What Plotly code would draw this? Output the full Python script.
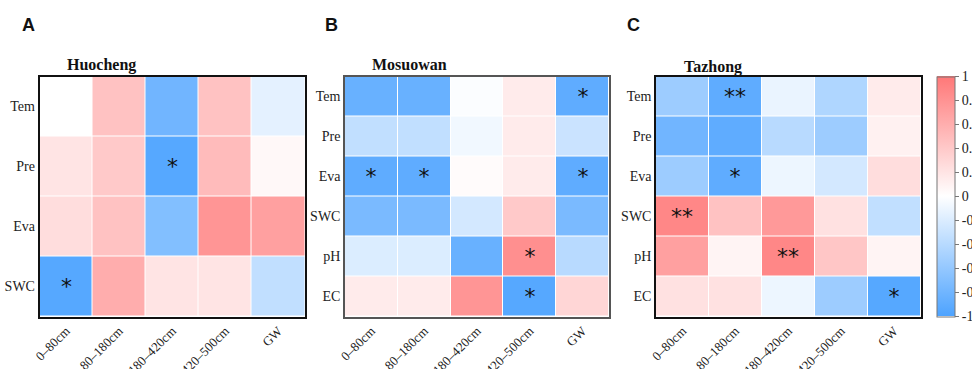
import plotly.graph_objects as go

# ---- data ----
depths = ["0–80cm", "80–180cm", "180–420cm", "420–500cm", "GW"]
rows_a = ["Tem", "Pre", "Eva", "SWC"]
rows_bc = ["Tem", "Pre", "Eva", "SWC", "pH", "EC"]

huocheng = [
    [0.00, 0.45, -0.80, 0.45, -0.15],
    [0.20, 0.40, -0.95, 0.50, 0.05],
    [0.25, 0.45, -0.70, 0.78, 0.70],
    [-0.95, 0.60, 0.20, 0.20, -0.35],
]
huocheng_sig = [
    ["", "", "", "", ""],
    ["", "", "*", "", ""],
    ["", "", "", "", ""],
    ["*", "", "", "", ""],
]

mosuowan = [
    [-0.85, -0.85, -0.02, 0.15, -0.90],
    [-0.35, -0.35, -0.08, 0.15, -0.30],
    [-0.90, -0.90, 0.03, 0.15, -0.90],
    [-0.75, -0.75, -0.25, 0.40, -0.75],
    [-0.20, -0.20, -0.85, 0.82, -0.40],
    [0.15, 0.15, 0.78, -0.95, 0.30],
]
mosuowan_sig = [
    ["", "", "", "", "*"],
    ["", "", "", "", ""],
    ["*", "*", "", "", "*"],
    ["", "", "", "", ""],
    ["", "", "", "*", ""],
    ["", "", "", "*", ""],
]

tazhong = [
    [-0.55, -0.90, -0.12, -0.45, 0.15],
    [-0.80, -0.90, -0.40, -0.55, 0.10],
    [-0.55, -0.90, -0.10, -0.25, 0.25],
    [0.88, 0.45, 0.75, 0.22, -0.35],
    [0.70, 0.08, 0.88, 0.42, 0.08],
    [0.22, 0.22, -0.10, -0.55, -0.95],
]
tazhong_sig = [
    ["", "**", "", "", ""],
    ["", "", "", "", ""],
    ["", "*", "", "", ""],
    ["**", "", "", "", ""],
    ["", "", "**", "", ""],
    ["", "", "", "", "*"],
]

titles = ["Huocheng", "Mosuowan", "Tazhong"]
letters = ["A", "B", "C"]
cbar_ticks = [1, 0.8, 0.6, 0.4, 0.2, 0, -0.2, -0.4, -0.6, -0.8, -1]

# ---- layout constants ----
W, H = 972, 369
colorscale = [[0.0, "rgb(77,163,255)"], [0.5, "rgb(255,255,255)"], [1.0, "rgb(255,119,119)"]]
serif = "Liberation Serif, Times New Roman, serif"

panels = [
    (huocheng, huocheng_sig, rows_a, (39.5, 305)),
    (mosuowan, mosuowan_sig, rows_bc, (345, 609)),
    (tazhong, tazhong_sig, rows_bc, (656, 920.5)),
]
frame_colors = ["#111", "#555", "#111"]
y_top, y_bot = 76.5, 316.5

fig = go.Figure()
for i, (z, sig, rows, (x0, x1)) in enumerate(panels):
    ax = "" if i == 0 else str(i + 1)
    fig.add_trace(go.Heatmap(
        z=z, x=depths, y=rows, text=sig, texttemplate="%{text}",
        textfont=dict(family="DejaVu Sans, sans-serif", size=22, color="#111"),
        colorscale=colorscale, zmin=-1, zmax=1, xgap=1, ygap=1,
        showscale=(i == 2),
        colorbar=dict(
            x=937 / W, xanchor="left", xref="paper", xpad=0, ypad=0,
            y=1 - y_top / H, yanchor="top", len=(y_bot - y_top) / H, lenmode="fraction",
            thickness=18, outlinecolor="#777", outlinewidth=1,
            tickvals=cbar_ticks, ticktext=[str(t) for t in cbar_ticks],
            ticks="outside", ticklen=4, tickcolor="#777",
            tickfont=dict(family=serif, size=14, color="#222"),
        ),
        xaxis="x" + ax, yaxis="y" + ax, hoverinfo="skip",
    ))
    fig.layout["xaxis" + ax] = dict(
        domain=[x0 / W, x1 / W], anchor="y" + ax, tickangle=-45,
        tickfont=dict(family=serif, size=13, color="#222"),
        showline=True, mirror=True, linecolor=frame_colors[i], linewidth=1.5,
        showgrid=False, zeroline=False, ticks="",
    )
    fig.layout["yaxis" + ax] = dict(
        domain=[1 - y_bot / H, 1 - y_top / H], anchor="x" + ax, autorange="reversed",
        tickfont=dict(family=serif, size=14, color="#222"),
        showline=True, mirror=True, linecolor=frame_colors[i], linewidth=1.5,
        showgrid=False, zeroline=False, ticks="",
    )

title_pos = [(65, 65), (370, 64), (682, 67)]
letter_pos = [(28, 25), (331, 25), (633, 25)]
for t, (tx, ty), l, (lx, ly) in zip(titles, title_pos, letters, letter_pos):
    fig.add_annotation(text="<b>" + t + "</b>", x=tx / W, y=1 - ty / H, xref="paper", yref="paper",
                       xanchor="left", yanchor="middle", showarrow=False,
                       font=dict(family=serif, size=16, color="#111"))
    fig.add_annotation(text="<b>" + l + "</b>", x=lx / W, y=1 - ly / H, xref="paper", yref="paper",
                       xanchor="center", yanchor="middle", showarrow=False,
                       font=dict(family="Liberation Sans, Arial, sans-serif", size=18, color="#111"))

fig.update_layout(width=W, height=H, margin=dict(l=0, r=0, t=0, b=0, autoexpand=False),
                  paper_bgcolor="white", plot_bgcolor="white", showlegend=False)
fig.write_html("out.html")
